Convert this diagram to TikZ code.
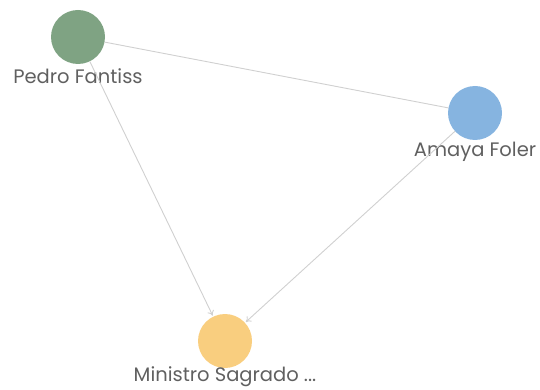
\documentclass[tikz,border=0pt]{standalone}
\usepackage{fontspec}
\setmainfont{Poppins}
\usepackage{tikz}
\usetikzlibrary{arrows.meta}

\definecolor{pedrogreen}{HTML}{7FA383}
\definecolor{amayablue}{HTML}{86B4E0}
\definecolor{ministroorange}{HTML}{F9CE7F}
\definecolor{linkgray}{HTML}{D0D0D0}
\definecolor{namegray}{HTML}{606060}

\begin{document}
\begin{tikzpicture}[
  x=1pt, y=-1pt,
  person/.style={circle, minimum size=54pt, inner sep=0pt},
  personname/.style={text=namegray, font=\fontsize{19.5}{22}\selectfont},
  link/.style={draw=linkgray, line width=0.9pt},
  linkto/.style={link, -{To[length=5pt,width=7pt]}, shorten >=1pt},
]

\useasboundingbox (0,0) rectangle (540,390);

\node[person, fill=pedrogreen] (pedro) at (78,37) {};
\node[person, fill=amayablue] (amaya) at (475,113) {};
\node[person, fill=ministroorange] (ministro) at (225,341) {};

\node[personname] (pedrolabel) at (78,76) {Pedro Fantiss};
\node[personname] (amayalabel) at (475,152) {Amaya Foler};
\node[personname] (ministrolabel) at (225,377) {Ministro Sagrado ...};

\draw[link] (pedro) -- (amaya);
\draw[linkto] (pedro) -- (ministro);
\draw[linkto] (amaya) -- (ministro);
\end{tikzpicture}
\end{document}
